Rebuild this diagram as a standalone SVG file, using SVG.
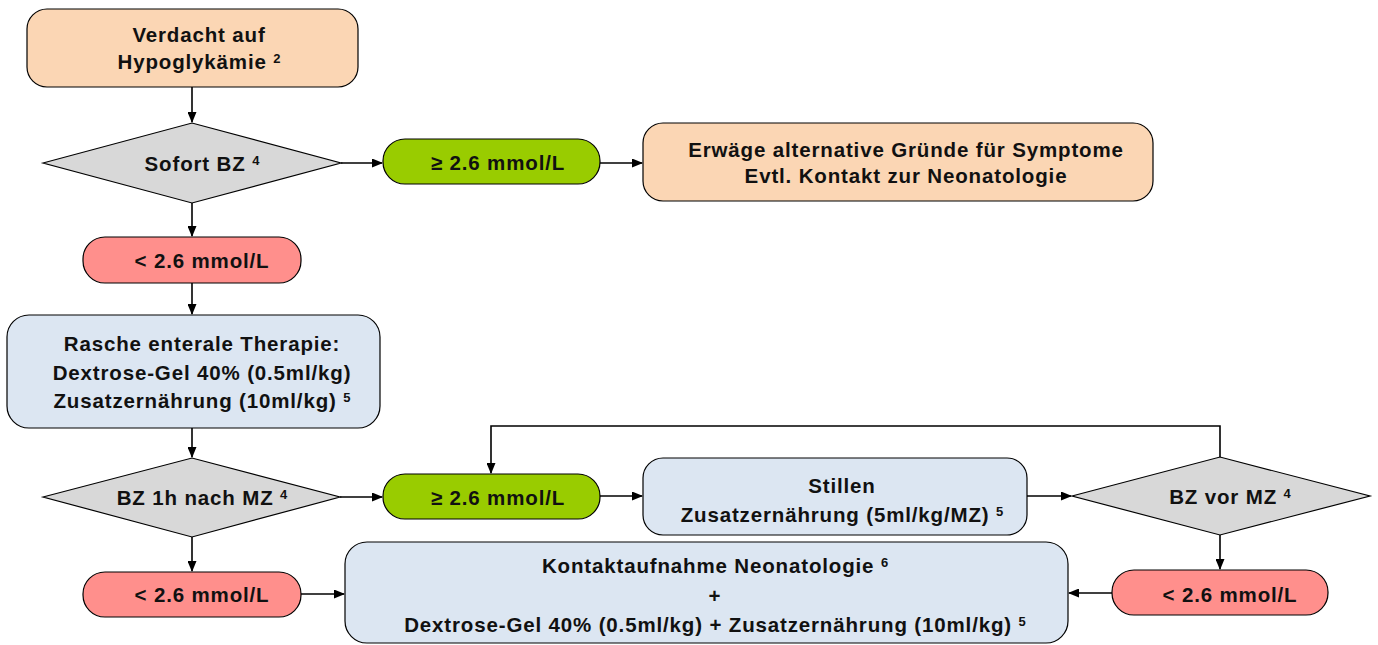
<svg xmlns="http://www.w3.org/2000/svg" width="1378" height="645" viewBox="0 0 1378 645">
<defs>
<marker id="ah" markerWidth="11" markerHeight="9" refX="10" refY="4.5" orient="auto" markerUnits="userSpaceOnUse">
<path d="M0,0 L11,4.5 L0,9 z" fill="#000"/>
</marker>
<style>
.sh{stroke:#000;stroke-width:1.2}
.orange{fill:#FBD6B4}
.green{fill:#99CC00}
.red{fill:#FF8F8C}
.blue{fill:#DCE6F2}
.gray{fill:#D8D8D8}
.t{font-family:"Liberation Sans",Arial,sans-serif;font-weight:bold;font-size:20.5px;letter-spacing:0.85px;fill:#111;text-anchor:middle}
.sup{font-size:13px;letter-spacing:0}
.c{fill:none;stroke:#000;stroke-width:1.6;marker-end:url(#ah)}
</style>
</defs>
<rect width="1378" height="645" fill="#fff"/>
<g id="n1"><rect class="sh orange" x="27" y="9" width="331" height="78" rx="20"/><text class="t" x="199" y="42">Verdacht auf</text><text class="t" x="199" y="69">Hypoglykämie <tspan class="sup" dy="-6">2</tspan></text></g>
<g id="n2"><polygon class="sh gray" points="43,163 192,123 341,163 192,203"/><text class="t" x="202" y="171">Sofort BZ <tspan class="sup" dy="-6">4</tspan></text></g>
<g id="n3"><rect class="sh green" x="383" y="139" width="217" height="45" rx="22"/><text class="t" x="498" y="170">≥ 2.6 mmol/L</text></g>
<g id="n4"><rect class="sh orange" x="643" y="123" width="510" height="78" rx="20"/><text class="t" x="906" y="157">Erwäge alternative Gründe für Symptome</text><text class="t" x="906" y="183">Evtl. Kontakt zur Neonatologie</text></g>
<g id="n5"><rect class="sh red" x="83" y="237" width="218" height="46" rx="22"/><text class="t" x="202" y="268">&lt; 2.6 mmol/L</text></g>
<g id="n6"><rect class="sh blue" x="7" y="315" width="373" height="113" rx="22"/><text class="t" x="202" y="351">Rasche enterale Therapie:</text><text class="t" x="202" y="380">Dextrose-Gel 40% (0.5ml/kg)</text><text class="t" x="202" y="408">Zusatzernährung (10ml/kg) <tspan class="sup" dy="-6">5</tspan></text></g>
<g id="n7"><polygon class="sh gray" points="43,497 192,458 340,497 192,537"/><text class="t" x="202" y="505">BZ 1h nach MZ <tspan class="sup" dy="-6">4</tspan></text></g>
<g id="n8"><rect class="sh green" x="383" y="474" width="217" height="45" rx="22"/><text class="t" x="498" y="505">≥ 2.6 mmol/L</text></g>
<g id="n9"><rect class="sh blue" x="643" y="458" width="384" height="77" rx="20"/><text class="t" x="842" y="493">Stillen</text><text class="t" x="842" y="522">Zusatzernährung (5ml/kg/MZ) <tspan class="sup" dy="-6">5</tspan></text></g>
<g id="n10"><polygon class="sh gray" points="1072,496 1220,457 1370,496 1220,535"/><text class="t" x="1230" y="504">BZ vor MZ <tspan class="sup" dy="-6">4</tspan></text></g>
<g id="n11"><rect class="sh red" x="1112" y="570" width="216" height="45" rx="22"/><text class="t" x="1230" y="602">&lt; 2.6 mmol/L</text></g>
<g id="n12"><rect class="sh blue" x="345" y="542" width="723" height="101" rx="22"/><text class="t" x="715" y="573">Kontaktaufnahme Neonatologie <tspan class="sup" dy="-6">6</tspan></text><text class="t" x="715" y="603">+</text><text class="t" x="715" y="632">Dextrose-Gel 40% (0.5ml/kg) + Zusatzernährung (10ml/kg) <tspan class="sup" dy="-6">5</tspan></text></g>
<g id="n13"><rect class="sh red" x="83" y="572" width="218" height="45" rx="22"/><text class="t" x="202" y="602">&lt; 2.6 mmol/L</text></g>
<g id="connectors">
<path class="c" d="M192,87 V122"/>
<path class="c" d="M341,163 H382"/>
<path class="c" d="M600,163 H642"/>
<path class="c" d="M192,203 V236"/>
<path class="c" d="M192,283 V314"/>
<path class="c" d="M192,428 V457"/>
<path class="c" d="M340,497 H382"/>
<path class="c" d="M600,496 H642"/>
<path class="c" d="M1027,496 H1071"/>
<path class="c" d="M1220,457 V426 H491 V473"/>
<path class="c" d="M1220,535 V569"/>
<path class="c" d="M1112,593 H1069"/>
<path class="c" d="M192,537 V571"/>
<path class="c" d="M301,594 H344"/>
</g>
</svg>
